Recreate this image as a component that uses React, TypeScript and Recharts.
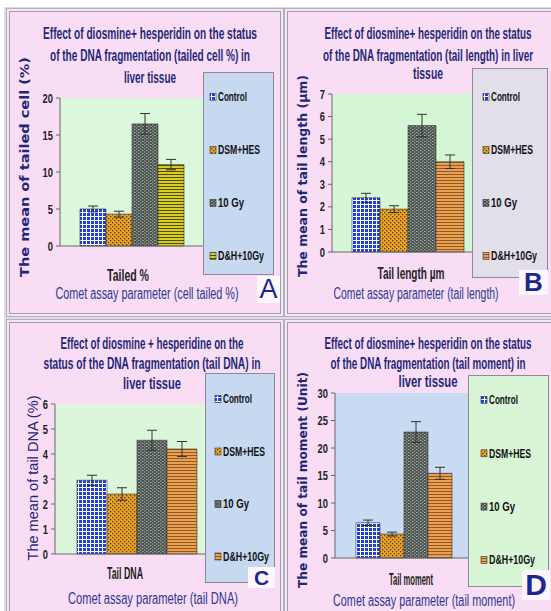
import React from 'react';
import { BarChart, Bar, XAxis, YAxis, CartesianGrid, ErrorBar, Legend } from 'recharts';

const groups = ['Control', 'DSM+HES', '10 Gy', 'D&H+10Gy'];

// A - tailed cell %
const tailedCellMean = [5.0, 4.3, 16.5, 11.0];
const tailedCellSe = [0.4, 0.4, 1.4, 0.7];
const tailedCellTicks = [0, 5, 10, 15, 20];
// B - tail length
const tailLengthMean = [2.4, 1.9, 5.6, 4.0];
const tailLengthSe = [0.2, 0.15, 0.5, 0.3];
const tailLengthTicks = [0, 1, 2, 3, 4, 5, 6, 7];
// C - tail DNA
const tailDnaMean = [2.95, 2.4, 4.55, 4.2];
const tailDnaSe = [0.2, 0.25, 0.4, 0.3];
const tailDnaTicks = [0, 1, 2, 3, 4, 5, 6];
// D - tail moment
const tailMomentMean = [6.4, 4.35, 22.9, 15.4];
const tailMomentSe = [0.5, 0.35, 1.9, 1.1];
const tailMomentTicks = [0, 5, 10, 15, 20, 25, 30];

const FONT = '"Liberation Sans", Arial, sans-serif';
const NAVY = '#1f2878';
const PINK = '#f9ddf5';
const legendTextW = [29, 42, 26, 46];

const toRows = (param: string, mean: number[], se: number[]) => {
  const row: any = { param };
  mean.forEach((v, i) => {
    row['g' + i] = v;
    row['e' + i] = se[i];
  });
  return [row];
};

const panels = [
  {
    id: 'a',
    data: toRows('Tailed %', tailedCellMean, tailedCellSe),
    ticks: tailedCellTicks,
    box: { x: 10, y: 12, w: 270, h: 301 },
    plot: { l: 60, r: 205, t: 98, b: 246 },
    gap: 20,
    plotFill: '#dcf8dc',
    dh: { fill: '#d8ce1e', stripe: '#4f4a12' },
    title: [['Effect of diosmine+ hesperidin on the status', 214], ['of the DNA fragmentation (tailed cell %) in', 200], ['liver tissue', 52]],
    titleX: 150, titleY: [33, 55, 77],
    yLabel: { text: 'The mean of tailed cell (%)', x: 24, y: 167, len: 220, bold: true, size: 13 },
    cat: { x: 128, y: 275, len: 42 },
    comet: { text: 'Comet assay parameter (cell tailed %)', x: 147, y: 293, len: 183 },
    legend: { x: 203, y: 72, w: 71, h: 203, fill: '#c6d9f0', first: 25, step: 53, pad: 7 },
    letter: { text: 'A', x: 257, y: 276, w: 23, h: 27, size: 27, bold: false },
  },
  {
    id: 'b',
    data: toRows('Tail length µm', tailLengthMean, tailLengthSe),
    ticks: tailLengthTicks,
    box: { x: 288, y: 12, w: 263, h: 301 },
    plot: { l: 332, r: 483, t: 94, b: 252 },
    gap: 20,
    plotFill: '#d6f7d6',
    dh: { fill: '#e6a452', stripe: '#9a5424' },
    title: [['Effect of diosmine+ hesperidin on the status', 207], ['of the DNA fragmentation (tail length) in liver', 210], ['tissue', 30]],
    titleX: 428, titleY: [33, 55, 73],
    yLabel: { text: 'The mean of tail length (µm)', x: 303, y: 176, len: 202, bold: true, size: 12 },
    cat: { x: 411, y: 273, len: 67 },
    comet: { text: 'Comet assay parameter (tail length)', x: 416, y: 293, len: 165 },
    legend: { x: 472, y: 68, w: 76, h: 210, fill: '#e2dfeb', first: 29, step: 53, pad: 11 },
    letter: { text: 'B', x: 519, y: 270, w: 29, h: 25, size: 26, bold: true },
  },
  {
    id: 'c',
    data: toRows('Tail DNA', tailDnaMean, tailDnaSe),
    ticks: tailDnaTicks,
    box: { x: 10, y: 323, w: 270, h: 288 },
    plot: { l: 55, r: 217, t: 404, b: 554 },
    gap: 22,
    plotFill: '#dcf6dc',
    dh: { fill: '#e6a452', stripe: '#9a5424' },
    title: [['Effect of diosmine + hesperidine on the', 183], ['status of the DNA fragmentation (tail DNA) in', 217], ['liver tissue', 58]],
    titleX: 152, titleY: [343, 363, 383],
    yLabel: { text: 'The mean of tail DNA (%)', x: 33, y: 478, len: 165, bold: false, size: 14 },
    cat: { x: 125, y: 573, len: 36 },
    comet: { text: 'Comet assay parameter (tail DNA)', x: 153, y: 598, len: 170 },
    legend: { x: 205, y: 373, w: 70, h: 210, fill: '#c6d9f0', first: 26, step: 52.5, pad: 10 },
    letter: { text: 'C', x: 248, y: 567, w: 27, h: 21, size: 21, bold: true },
  },
  {
    id: 'd',
    data: toRows('Tail moment', tailMomentMean, tailMomentSe),
    ticks: tailMomentTicks,
    box: { x: 288, y: 323, w: 263, h: 288 },
    plot: { l: 335, r: 474, t: 393, b: 558 },
    gap: 21,
    plotFill: '#c9dbf3',
    dh: { fill: '#e6a452', stripe: '#9a5424' },
    title: [['Effect of diosmine+ hesperidin on the status', 207], ['of the DNA fragmentation (tail moment) in', 195], ['liver tissue', 59]],
    titleX: 428, titleY: [343, 363, 381],
    yLabel: { text: 'The mean of tail moment (Unit)', x: 303, y: 480, len: 216, bold: true, size: 12 },
    cat: { x: 411, y: 579, len: 44 },
    comet: { text: 'Comet assay parameter (tail moment)', x: 424, y: 600, len: 182 },
    legend: { x: 468, y: 375, w: 81, h: 212, fill: '#d8f5d6', first: 25, step: 53.3, pad: 13 },
    letter: { text: 'D', x: 522, y: 570, w: 28, h: 30, size: 30, bold: true },
  },
];

function Patterns({ id, dh }: any) {
  return (
    <defs>
      <pattern id={`${id}-p0`} width={4} height={4} patternUnits="userSpaceOnUse">
        <rect width={4} height={4} fill="#1f3fe0" />
        <path d="M0 0.5H4M0.5 0V4" stroke="#ffffff" strokeWidth={1} />
      </pattern>
      <pattern id={`${id}-p1`} width={4} height={4} patternUnits="userSpaceOnUse">
        <rect width={4} height={4} fill="#eaa422" />
        <rect x={0} y={0} width={1.3} height={1.3} fill="#5a3a10" />
        <rect x={2} y={2} width={1.3} height={1.3} fill="#5a3a10" />
      </pattern>
      <pattern id={`${id}-p2`} width={4} height={3} patternUnits="userSpaceOnUse">
        <rect width={4} height={3} fill="#4b5450" />
        <rect x={0} y={0} width={1.5} height={1} fill="#a9b3aa" />
        <rect x={2} y={1.5} width={1.5} height={1} fill="#a9b3aa" />
      </pattern>
      <pattern id={`${id}-p3`} width={4} height={3} patternUnits="userSpaceOnUse">
        <rect width={4} height={3} fill={dh.fill} />
        <rect x={0} y={0} width={4} height={1} fill={dh.stripe} />
      </pattern>
    </defs>
  );
}

function Panel({ cfg }: any) {
  const { box, plot, legend: leg } = cfg;
  const xAxisH = 30;
  const lx = (v: number) => v - box.x;
  const ly = (v: number) => v - box.y;
  const margin = {
    top: plot.t - box.y,
    right: box.x + box.w - plot.r,
    bottom: box.y + box.h - plot.b - xAxisH,
    left: 0,
  };

  const renderNum = ({ x, y, payload }: any) => (
    <text x={x} y={y} dy="0.35em" textAnchor="end" fontFamily={FONT} fontWeight="bold" fontSize={13} fill="#222"
      textLength={String(payload.value).length * 5.2} lengthAdjust="spacingAndGlyphs">
      {payload.value}
    </text>
  );

  const renderCat = ({ payload }: any) => (
    <text x={lx(cfg.cat.x)} y={ly(cfg.cat.y)} dy="0.35em" textAnchor="middle" fontFamily={FONT} fontWeight="bold" fontSize={16}
      fill="#222" textLength={cfg.cat.len} lengthAdjust="spacingAndGlyphs">
      {payload.value}
    </text>
  );

  const renderLegend = () => (
    <svg width={leg.w} height={leg.h} style={{ display: 'block', overflow: 'visible' }}>
      <rect x={0.5} y={0.5} width={leg.w - 1} height={leg.h - 1} fill={leg.fill} stroke="#8d8a96" />
      {groups.map((g, i) => {
        const cy = leg.first + i * leg.step;
        return (
          <g key={g}>
            <rect x={leg.pad} y={cy - 3.5} width={6} height={7} fill={`url(#${cfg.id}-p${i})`} stroke="#333" strokeWidth={0.6} />
            <text x={leg.pad + 8} y={cy} dy="0.35em" fontFamily={FONT} fontWeight="bold" fontSize={12.5} fill="#111"
              textLength={legendTextW[i]} lengthAdjust="spacingAndGlyphs">
              {g}
            </text>
          </g>
        );
      })}
    </svg>
  );

  return (
    <div style={{
      position: 'absolute', left: box.x, top: box.y, width: box.w, height: box.h, background: PINK,
      boxShadow: '0 0 0 1px #a39bb0, 0 0 0 3px #f1e9f2, 0 0 0 4px #b7aec0',
    }}>
      <BarChart width={box.w} height={box.h} data={cfg.data} margin={margin} barGap={0} barCategoryGap={cfg.gap}>
        <Patterns id={cfg.id} dh={cfg.dh} />
        <CartesianGrid fill={cfg.plotFill} horizontal={false} vertical={false} />
        <XAxis dataKey="param" height={xAxisH} tickLine={false} axisLine={{ stroke: '#666' }} tick={renderCat} />
        <YAxis width={plot.l - box.x} domain={[0, cfg.ticks[cfg.ticks.length - 1]]} ticks={cfg.ticks} interval={0}
          tickSize={4} tickMargin={3} axisLine={{ stroke: '#666' }} tickLine={{ stroke: '#666' }} tick={renderNum} />
        {groups.map((g, i) => (
          <Bar key={g} dataKey={'g' + i} name={g} fill={`url(#${cfg.id}-p${i})`} stroke="#333" strokeWidth={0.6}
            isAnimationActive={false}>
            <ErrorBar dataKey={'e' + i} width={5} stroke="#333" strokeWidth={1} direction="y" />
          </Bar>
        ))}
        <Legend layout="vertical" align="center" verticalAlign="middle" content={renderLegend}
          wrapperStyle={{ left: lx(leg.x), top: ly(leg.y), width: leg.w, height: leg.h }} />
        {cfg.title.map(([line, len]: any, i: number) => (
          <text key={i} x={lx(cfg.titleX)} y={ly(cfg.titleY[i])} dy="0.35em" textAnchor="middle" fontFamily={FONT}
            fontWeight="bold" fontSize={16} fill={NAVY} textLength={len} lengthAdjust="spacingAndGlyphs">
            {line}
          </text>
        ))}
        <text x={lx(cfg.yLabel.x)} y={ly(cfg.yLabel.y)} dy="0.35em" textAnchor="middle"
          transform={`rotate(-90 ${lx(cfg.yLabel.x)} ${ly(cfg.yLabel.y)})`}
          fontFamily={cfg.yLabel.bold ? '"DejaVu Sans", Verdana, sans-serif' : FONT}
          fontWeight={cfg.yLabel.bold ? 'bold' : 'normal'} fontSize={cfg.yLabel.size} fill={NAVY}
          textLength={cfg.yLabel.len} lengthAdjust="spacingAndGlyphs">
          {cfg.yLabel.text}
        </text>
        <text x={lx(cfg.comet.x)} y={ly(cfg.comet.y)} dy="0.35em" textAnchor="middle" fontFamily={FONT} fontSize={16}
          fill="#2a3892" textLength={cfg.comet.len} lengthAdjust="spacingAndGlyphs">
          {cfg.comet.text}
        </text>
      </BarChart>
      <div style={{
        position: 'absolute', left: lx(cfg.letter.x), top: ly(cfg.letter.y), width: cfg.letter.w, height: cfg.letter.h,
        background: '#fdf7fd', color: '#1c2790', fontFamily: FONT, fontSize: cfg.letter.size,
        fontWeight: cfg.letter.bold ? 'bold' : 'normal', lineHeight: `${cfg.letter.h}px`, textAlign: 'center',
      }}>
        {cfg.letter.text}
      </div>
    </div>
  );
}

export default function App() {
  return (
    <div style={{ position: 'absolute', left: 0, top: 0, width: 551, height: 611, background: '#ffffff', overflow: 'hidden' }}>
      <div style={{ position: 'absolute', left: 4, top: 7, width: 551, height: 611, background: '#e2dae6' }} />
      {panels.map((p) => (
        <Panel key={p.id} cfg={p} />
      ))}
    </div>
  );
}
